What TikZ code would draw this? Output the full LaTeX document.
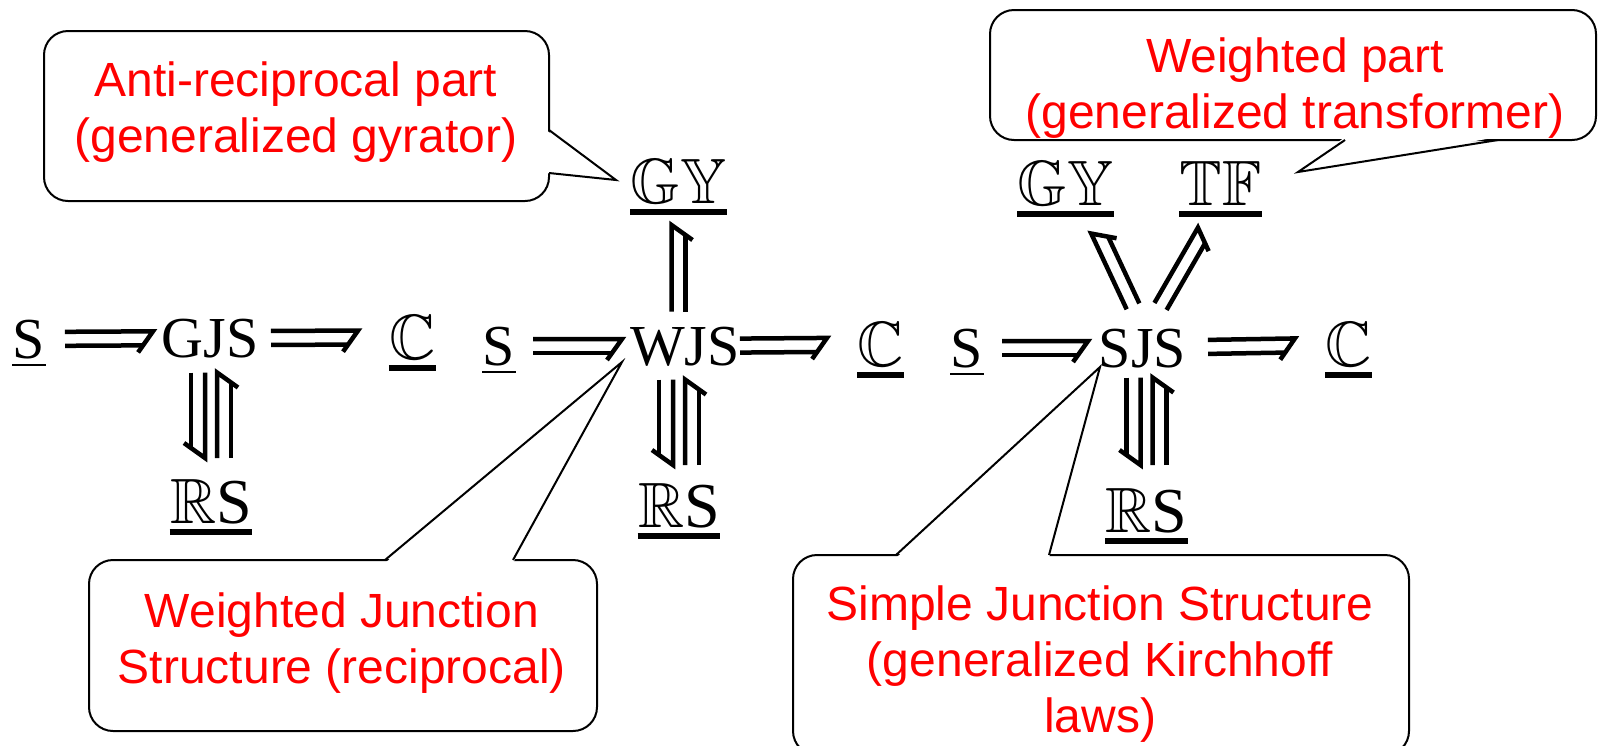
\documentclass[tikz,border=0pt]{standalone}
\usepackage{fontspec}
\setmainfont{Liberation Serif}
\newfontfamily\calloutfont{Liberation Sans}
\usetikzlibrary{positioning, calc}

\DeclareFontFamily{U}{dblroman}{}
\DeclareFontShape{U}{dblroman}{m}{n}{<-> msbm10}{}
\newcommand{\dbl}[1]{{\usefont{U}{dblroman}{m}{n}#1}}
% bond: from, to, gap at start, gap at tip (px from node centres)
\newcommand{\bond}[4]{%
  \path ($(#1)!{#3*0.5pt}!(#2)$) coordinate (b0)
        ($(#2)!{#4*0.5pt}!(#1)$) coordinate (b1);
  \path ($(b0)!3.5pt!90:(b1)$) coordinate (b0l)
        ($(b0)!3.5pt!-90:(b1)$) coordinate (b0r)
        ($(b1)!3.5pt!-90:(b0)$) coordinate (b1l)
        ($(b1)!3.5pt!90:(b0)$) coordinate (b1r)
        ($(b1r)!5pt!(b0r)$) coordinate (b1k);
  \draw[bondline] (b0l) -- (b1l) -- ($(b1l)!1.5!(b1k)$);
  \draw[bondline] (b0r) -- (b1k);
}

\begin{document}
\begin{tikzpicture}[
    x=0.5pt, y=-0.5pt,
    jsnode/.style={font=\fontsize{29}{29}\selectfont, inner sep=0pt,
                   text height=19pt, text depth=0pt, anchor=base},
    bbnode/.style={font=\fontsize{32}{32}\selectfont, inner sep=0pt,
                   text height=21.5pt, text depth=0pt, anchor=base},
    bondline/.style={line width=2.25pt, line cap=butt, line join=miter},
    callbox/.style={draw, line width=1pt, rounded corners=12pt,
                    fill=white, inner sep=0pt},
    callline/.style={line width=1pt, line join=miter},
    calltext/.style={text=red, inner sep=0pt, align=center,
                     font=\calloutfont\fontsize{24}{28}\selectfont},
    ulthin/.style={line width=1pt},
    ulthick/.style={line width=2.75pt}
]
\useasboundingbox (0,0) rectangle (1599,745);
\clip (0,0) rectangle (1599,745);

% Callout boxes
\node[callbox, minimum width=252.5pt, minimum height=85pt] (gybox) at (296.5,116) {};
\node[callbox, minimum width=303pt, minimum height=65pt] (tfbox) at (1293,75) {};
\node[callbox, minimum width=254pt, minimum height=85.5pt] (wjsbox) at (343,645.5) {};
\node[callbox, minimum width=308pt, minimum height=100pt] (sjsbox) at (1101,655) {};

\coordinate (gytip) at (616,180);
\coordinate (tftip) at (1298,172);
\coordinate (wjstip) at (622,362);
\coordinate (sjstip) at (1100,367);

\fill[white] (546,130) -- (gytip) -- (546,173) -- cycle;
\draw[callline] (549,130) -- (gytip) -- (549,173);
\fill[white] (1345,137) -- (tftip) -- (1498,137) -- cycle;
\draw[callline] (1345,140) -- (tftip) -- (1498,140);
\fill[white] (385,563) -- (wjstip) -- (513,563) -- cycle;
\draw[callline] (385,560) -- (wjstip) -- (513,560);
\fill[white] (896,558) -- (sjstip) -- (1049,558) -- cycle;
\draw[callline] (896,555) -- (sjstip) -- (1049,555);

\node[calltext] (gytext) at (296,112) {Anti-reciprocal part\\(generalized gyrator)};
\node[calltext] (tftext) at (1295,88) {Weighted part\\(generalized transformer)};
\node[calltext] (wjstext) at (342,643) {Weighted Junction\\Structure (reciprocal)};
\node[calltext] (sjstext) at (1100,664)
      {Simple Junction Structure\\(generalized Kirchhoff\\laws)};

% Left — generalized junction structure
\node[jsnode] (gjs) at (210,357) {GJS};
\node[jsnode] (s1) at (29,358) {S};
\node[bbnode] (c1) at (412.5,359) {\dbl{C}};
\node[bbnode] (rs1) at (211,523) {\dbl{R}S};

% Middle — weighted junction structure
\node[jsnode] (wjs) at (685,365) {WJS};
\node[jsnode] (s2) at (499,365) {S};
\node[bbnode] (c2) at (880.5,366) {\dbl{C}};
\node[bbnode] (gy1) at (678.5,203) {\dbl{GY}};
\node[bbnode] (rs2) at (679,527) {\dbl{R}S};

% Right — simple junction structure
\node[jsnode] (sjs) at (1142.5,367) {SJS};
\node[jsnode] (s3) at (967,367) {S};
\node[bbnode] (c3) at (1348.5,366) {\dbl{C}};
\node[bbnode] (gy2) at (1065.5,205) {\dbl{GY}};
\node[bbnode] (tf) at (1220.5,205) {\dbl{TF}};
\node[bbnode] (rs3) at (1146.5,532) {\dbl{R}S};

% Underlines
\foreach \n in {s1,s2,s3}
  \draw[ulthin] ([yshift=-3.5pt]\n.base west) -- ([yshift=-3.5pt]\n.base east);
\foreach \n in {c1,rs1,c2,gy1,rs2,c3,gy2,tf,rs3}
  \draw[ulthick] ([yshift=-4.5pt]\n.base west) -- ([yshift=-4.5pt]\n.base east);

% Bonds
\coordinate (gjs-v) at (rs1 |- gjs);
\coordinate (wjs-u) at (gy1 |- wjs);
\coordinate (wjs-v) at (rs2 |- wjs);
\coordinate (sjs-v) at (rs3 |- sjs);

\bond{s1}{gjs}{36}{57}
\bond{gjs}{c1}{61}{54.5}
\bond{[xshift=-6.5pt]gjs-v}{[xshift=-6.5pt]rs1}{34.5}{43.5}
\bond{[xshift=6.5pt]rs1}{[xshift=6.5pt]gjs-v}{43.5}{34.5}

\bond{s2}{wjs}{34}{63}
\bond{wjs}{c2}{55}{53.5}
\bond{wjs-u}{gy1}{34.5}{43.5}
\bond{[xshift=-6.5pt]wjs-v}{[xshift=-6.5pt]rs2}{33.5}{40.5}
\bond{[xshift=6.5pt]rs2}{[xshift=6.5pt]wjs-v}{40.5}{33.5}

\bond{s3}{sjs}{35}{54.5}
\bond{sjs}{c3}{65.5}{53.5}
\bond{[xshift=5pt]sjs}{[xshift=5pt]gy2}{46}{52}
\bond{[xshift=-3pt]sjs}{[xshift=5.5pt]tf}{48}{55}
\bond{[xshift=-6.5pt]sjs-v}{[xshift=-6.5pt]rs3}{29.5}{45.5}
\bond{[xshift=6.5pt]rs3}{[xshift=6.5pt]sjs-v}{45.5}{29.5}
\end{tikzpicture}
\end{document}
